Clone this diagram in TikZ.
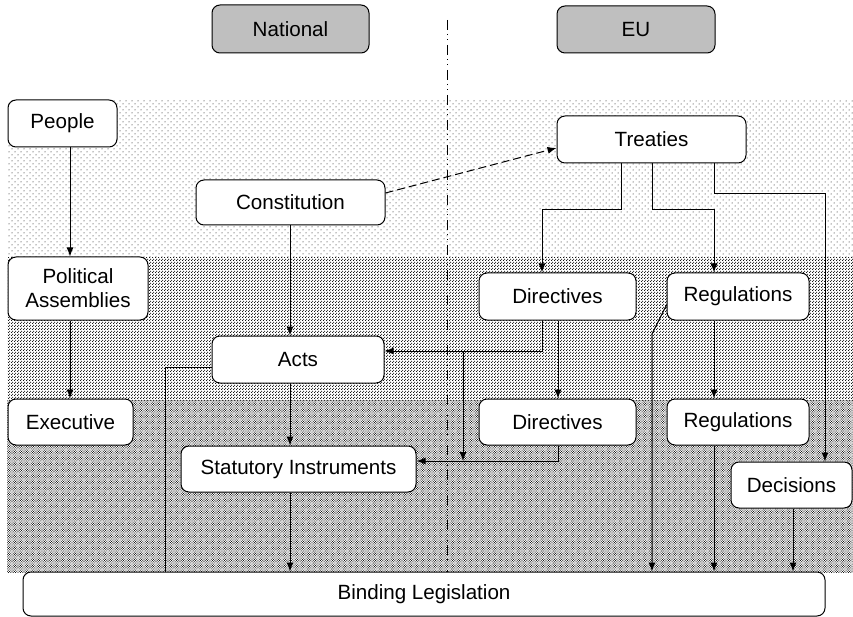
\documentclass[tikz,border=0pt]{standalone}
\usepackage{fontspec}
\setmainfont{Liberation Sans}
\usetikzlibrary{arrows.meta,patterns}

\pgfdeclarepatternformonly{sparsedots}{\pgfqpoint{-1pt}{-1pt}}{\pgfqpoint{5pt}{5pt}}{\pgfqpoint{6pt}{6pt}}
{
  \pgfpathcircle{\pgfqpoint{0pt}{0pt}}{0.5pt}
  \pgfpathcircle{\pgfqpoint{3pt}{3pt}}{0.5pt}
  \pgfusepath{fill}
}
\pgfdeclarepatternformonly{middots}{\pgfqpoint{-0.75pt}{-0.75pt}}{\pgfqpoint{2.25pt}{2.25pt}}{\pgfqpoint{3pt}{3pt}}
{
  \pgfpathcircle{\pgfqpoint{0pt}{0pt}}{0.74pt}
  \pgfpathcircle{\pgfqpoint{1.5pt}{1.5pt}}{0.74pt}
  \pgfusepath{fill}
}
\pgfdeclarepatternformonly{densedots}{\pgfqpoint{-0.6pt}{-0.6pt}}{\pgfqpoint{1.8pt}{1.8pt}}{\pgfqpoint{2.4pt}{2.4pt}}
{
  \pgfpathcircle{\pgfqpoint{0pt}{0pt}}{0.55pt}
  \pgfpathcircle{\pgfqpoint{1.2pt}{1.2pt}}{0.55pt}
  \pgfusepath{fill}
}

\begin{document}
\begin{tikzpicture}[x=1pt,y=-1pt,>={Latex[length=9pt,width=7pt]},
   box/.style={draw,line width=1pt,rounded corners=8pt,fill=white,inner sep=0pt,
    align=center,font=\fontsize{20.6}{24}\selectfont},
   head/.style={box,fill=black!25},
   conn/.style={line width=1pt}]
   \useasboundingbox (0,0) rectangle (853,617);
   \fill[pattern=sparsedots] (8,100) rectangle (853,258);
   \fill[pattern=middots] (7,258) rectangle (853,400);
   \fill[pattern=densedots] (7,400) rectangle (853,572);
   \draw[line width=0.8pt,dash pattern=on 10pt off 4pt on 1pt off 4.5pt on 1pt off 4.5pt]
    (447,20) -- (447,572);

   \node[head,minimum width=157,minimum height=48] (national) at (290.5,29) {National};
   \node[head,minimum width=158,minimum height=47] (eu) at (636,29.5) {EU};
   \node[box,minimum width=109,minimum height=47] (people) at (62.5,123.5) {People};
   \node[box,minimum width=189,minimum height=45] (constitution) at (290.5,202.5) {Constitution};
   \node[box,minimum width=189,minimum height=47] (treaties) at (651.5,139.5) {Treaties};
   \node[box,minimum width=140,minimum height=63] (political) at (78,288.5) {Political\\Assemblies};
   \node[box,minimum width=172,minimum height=47] (acts) at (298,359.5) {Acts};
   \node[box,minimum width=125,minimum height=46] (executive) at (70.5,422) {Executive};
   \node[box,minimum width=157,minimum height=47] (dirone) at (557.5,296.5) {Directives};
   \node[box,minimum width=157,minimum height=46] (dirtwo) at (557.5,422) {Directives};
   \node[box,minimum width=142,minimum height=47] (regone) at (738,296.5) {Regulations};
   \node[box,minimum width=142,minimum height=46] (regtwo) at (738,422) {Regulations};
   \node[box,minimum width=235,minimum height=46] (statutory) at (298.5,469) {Statutory Instruments};
   \node[box,minimum width=121,minimum height=46] (decisions) at (791.5,485) {Decisions};
   \node[box,minimum width=802,minimum height=44] (binding) at (424,594) {Binding Legislation};
   \coordinate (dirsplit) at (463,351);
   \coordinate (dirmerge) at (463,461);

   \draw[conn,->] (70,0 |- people.south) -- (70,0 |- political.north);
   \draw[conn,->] (70,0 |- political.south) -- (70,0 |- executive.north);
   \draw[conn,->] (290,0 |- constitution.south) -- (290,0 |- acts.north);
   \draw[conn,->] (290,0 |- acts.south) -- (290,0 |- statutory.north);
   \draw[conn,->] (290,0 |- statutory.south) -- (290,0 |- binding.north);
   \draw[conn,->,dash pattern=on 8pt off 4pt] ([yshift=9.5]constitution.east) -- ([yshift=-8.5]treaties.west);
   \draw[conn,->] (621,0 |- treaties.south) -- (621,210) -| (542,0 |- dirone.north);
   \draw[conn,->] (652,0 |- treaties.south) -- (652,210) -| (714,0 |- regone.north);
   \draw[conn,->] (714,0 |- treaties.south) -- (714,194) -| (825,0 |- decisions.north);
   \draw[conn,->] (542,0 |- dirone.south) |- ([yshift=8.5]acts.east);
   \draw[conn,->] (dirsplit) -- (dirmerge);
   \draw[conn,->] (558,0 |- dirone.south) -- (558,0 |- dirtwo.north);
   \draw[conn,->] (558,0 |- dirtwo.south) |- ([yshift=8]statutory.east);
   \draw[conn,->] (714,0 |- regone.south) -- (714,0 |- regtwo.north);
   \draw[conn,->] (714,0 |- regtwo.south) -- (714,0 |- binding.north);
   \draw[conn,->] ([yshift=-8.5]regone.west) -- (652,334) -- (652,0 |- binding.north);
   \draw[conn,->] (793,0 |- decisions.south) -- (793,0 |- binding.north);
   \draw[conn] ([yshift=-7.5]acts.west) -| (165,0 |- binding.north);
\end{tikzpicture}
\end{document}
